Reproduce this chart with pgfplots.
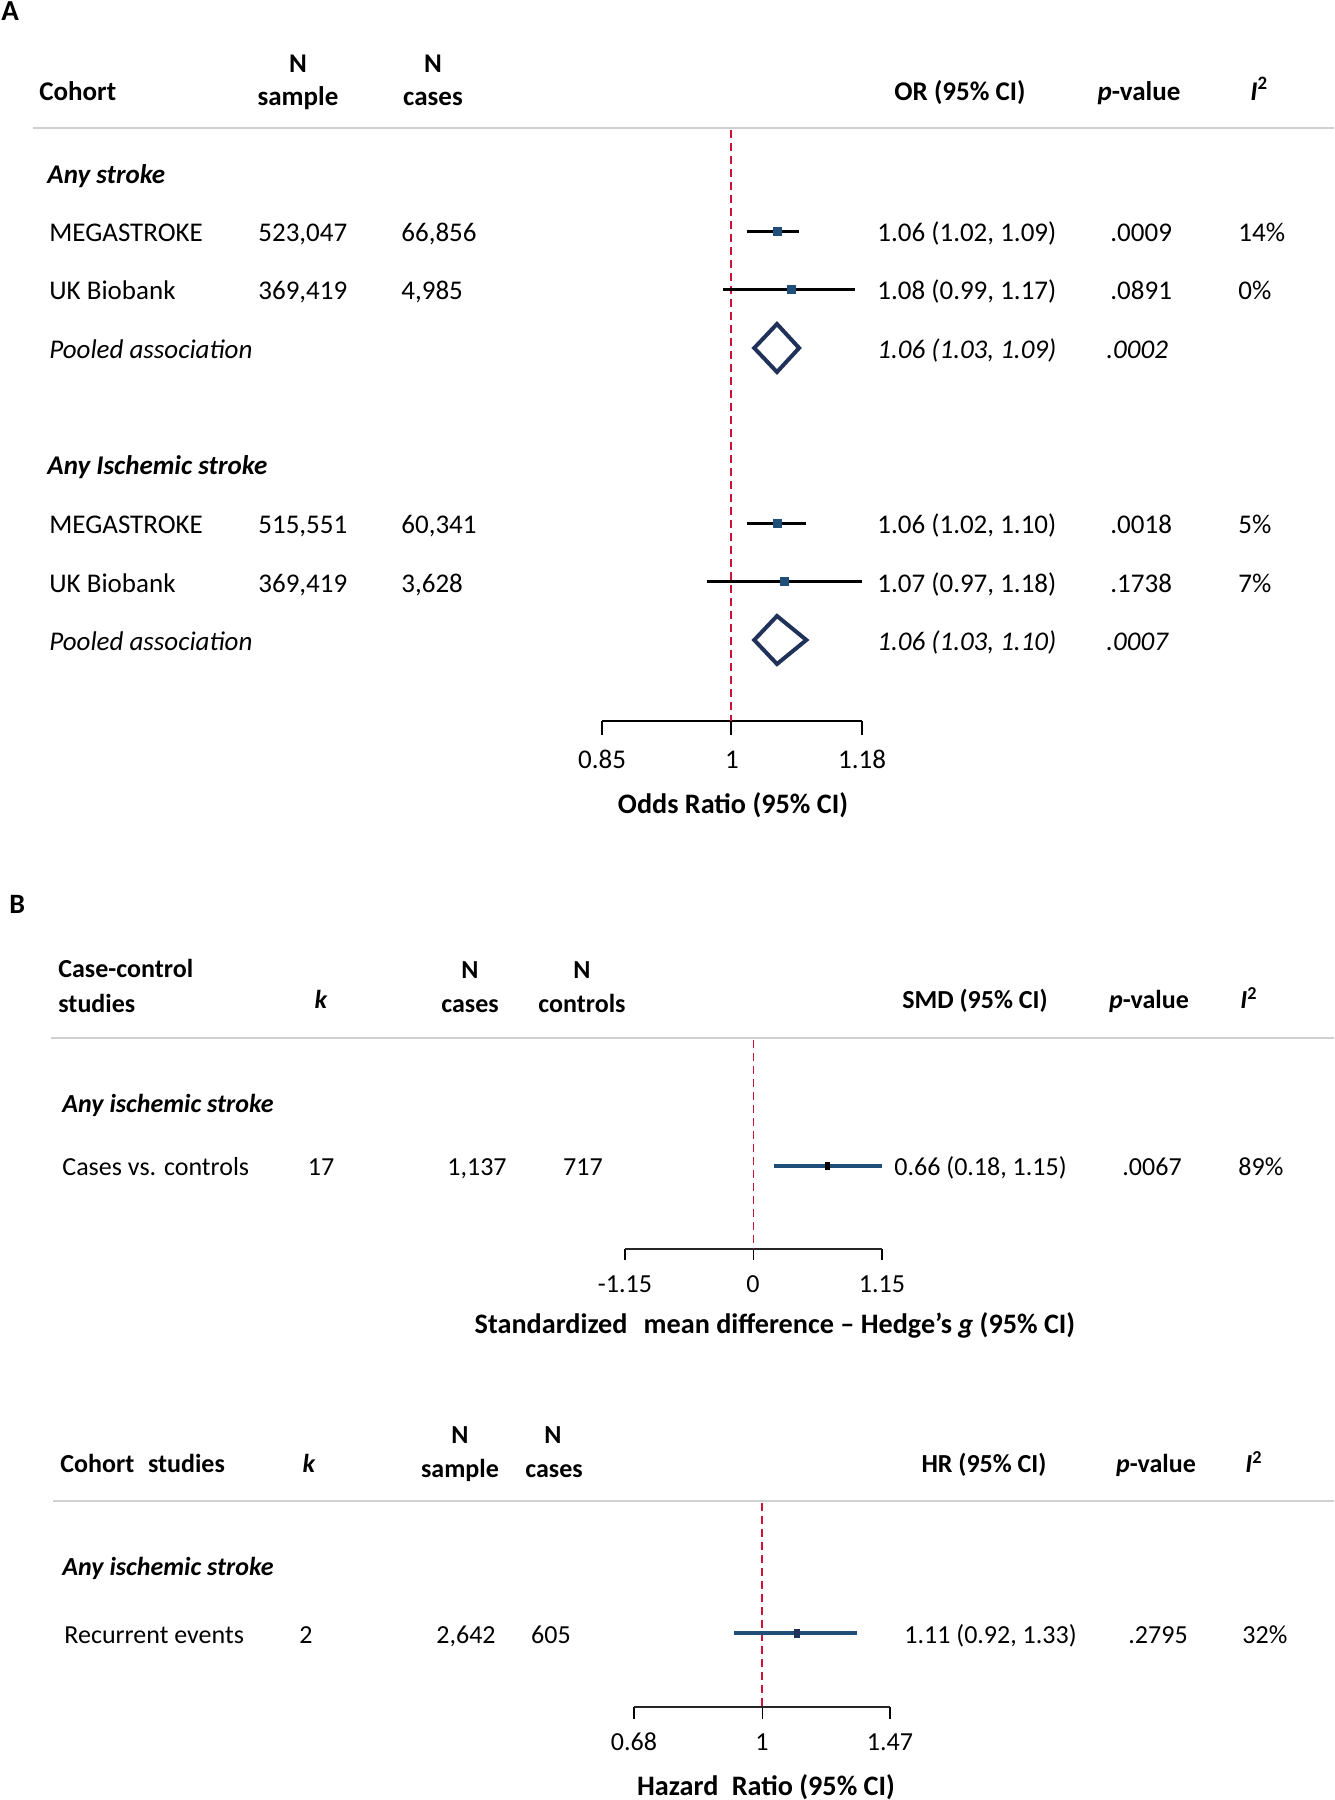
\documentclass[border=0pt]{standalone}
\usepackage{pgfplots}
\pgfplotsset{compat=1.18}
\usepackage{fontspec}
\setmainfont{Carlito}
\definecolor{mkblue}{RGB}{31,78,121}
\definecolor{dnavy}{RGB}{32,50,90}
\definecolor{refred}{RGB}{206,17,55}
\definecolor{hgray}{RGB}{208,208,208}
\pgfplotsset{forest/.style={scale only axis, clip=false, axis y line=none, axis x line*=bottom,
  x axis line style={-}, ytick=\empty, xticklabels={}, tick align=outside, enlargelimits=false,
  xminorticks=false, anchor=south west}}
\tikzset{ta/.style={font=\fontsize{13.5}{16}\selectfont, inner sep=0pt},
  hA/.style={font=\fontsize{13.5}{16}\selectfont\bfseries, inner sep=0pt},
  tb/.style={font=\fontsize{13}{15.5}\selectfont, inner sep=0pt},
  hB/.style={font=\fontsize{13}{15.5}\selectfont\bfseries, inner sep=0pt},
  hT/.style={font=\fontsize{14.1}{16}\selectfont\bfseries, inner sep=0pt}}
\begin{document}
\begin{tikzpicture}
\path[use as bounding box] (0pt,0pt) rectangle (667pt,-900pt);
\begin{scope}[x=0.5pt,y=-0.5pt]
% ---------- Panel A ----------
\node[font=\fontsize{14.5}{16}\selectfont\bfseries, inner sep=0pt, anchor=base west] at (1,20) {A};
\node[hA,anchor=base] at (298,72) {N};
\node[hA,anchor=base] at (433,72) {N};
\node[hA,anchor=base west] at (39,100) {Cohort};
\node[hA,anchor=base] at (298,105) {sample};
\node[hA,anchor=base] at (433,105) {cases};
\node[hA,anchor=base] at (960,100) {OR (95\% CI)};
\node[hA,anchor=base] at (1139,100) {\textit{p}-value};
\node[hA,anchor=base west] at (1250,100) {\textit{I}\textsuperscript{2}};
\draw[hgray, line width=1.25pt] (33,128) -- (1334,128);
\node[hA,anchor=base west] at (47,183) {\textit{Any stroke}};
\node[ta,anchor=base west] at (49,241) {MEGASTROKE};
\node[ta,anchor=base west] at (258,241) {523,047};
\node[ta,anchor=base west] at (401,241) {66,856};
\node[ta,anchor=base west] at (877,241) {1.06 (1.02, 1.09)};
\node[ta,anchor=base west] at (1110,241) {.0009};
\node[ta,anchor=base west] at (1238,241) {14\%};
\node[ta,anchor=base west] at (49,299) {UK Biobank};
\node[ta,anchor=base west] at (258,299) {369,419};
\node[ta,anchor=base west] at (401,299) {4,985};
\node[ta,anchor=base west] at (877,299) {1.08 (0.99, 1.17)};
\node[ta,anchor=base west] at (1110,299) {.0891};
\node[ta,anchor=base west] at (1238,299) {0\%};
\node[ta,anchor=base west] at (49,358) {\textit{Pooled association}};
\node[ta,anchor=base west] at (877,358) {\textit{1.06 (1.03, 1.09)}};
\node[ta,anchor=base west] at (1106,358) {\textit{.0002}};
\node[hA,anchor=base west] at (47,474) {\textit{Any Ischemic stroke}};
\node[ta,anchor=base west] at (49,533) {MEGASTROKE};
\node[ta,anchor=base west] at (258,533) {515,551};
\node[ta,anchor=base west] at (401,533) {60,341};
\node[ta,anchor=base west] at (877,533) {1.06 (1.02, 1.10)};
\node[ta,anchor=base west] at (1110,533) {.0018};
\node[ta,anchor=base west] at (1238,533) {5\%};
\node[ta,anchor=base west] at (49,592) {UK Biobank};
\node[ta,anchor=base west] at (258,592) {369,419};
\node[ta,anchor=base west] at (401,592) {3,628};
\node[ta,anchor=base west] at (877,592) {1.07 (0.97, 1.18)};
\node[ta,anchor=base west] at (1110,592) {.1738};
\node[ta,anchor=base west] at (1238,592) {7\%};
\node[ta,anchor=base west] at (49,650) {\textit{Pooled association}};
\node[ta,anchor=base west] at (877,650) {\textit{1.06 (1.03, 1.10)}};
\node[ta,anchor=base west] at (1106,650) {\textit{.0007}};
\node[ta,anchor=base] at (602,768) {0.85};
\node[ta,anchor=base] at (732,768) {1};
\node[ta,anchor=base] at (862,768) {1.18};
\node[hT,anchor=base] at (733,813) {Odds Ratio (95\% CI)};
% ---------- Panel B ----------
\node[font=\fontsize{14}{16}\selectfont\bfseries, inner sep=0pt, anchor=base west] at (9,913) {B};
\node[hB,anchor=base west] at (58,977) {Case-control};
\node[hB,anchor=base west] at (58,1012) {studies};
\node[hB,anchor=base] at (321,1008) {\textit{k}};
\node[hB,anchor=base] at (470,978) {N};
\node[hB,anchor=base] at (470,1012) {cases};
\node[hB,anchor=base] at (582,978) {N};
\node[hB,anchor=base] at (582,1012) {controls};
\node[hB,anchor=base] at (975,1008) {SMD (95\% CI)};
\node[hB,anchor=base] at (1149,1008) {\textit{p}-value};
\node[hB,anchor=base west] at (1240,1008) {\textit{I}\textsuperscript{2}};
\draw[hgray, line width=1.25pt] (51,1038) -- (1334,1038);
\node[hB,anchor=base west] at (62,1112) {\textit{Any ischemic stroke}};
\node[tb,anchor=base west] at (62,1175) {Cases vs. controls};
\node[tb,anchor=base] at (321,1175) {17};
\node[tb,anchor=base] at (477,1175) {1,137};
\node[tb,anchor=base] at (583,1175) {717};
\node[tb,anchor=base west] at (894,1175) {0.66 (0.18, 1.15)};
\node[tb,anchor=base west] at (1122,1175) {.0067};
\node[tb,anchor=base west] at (1238,1175) {89\%};
\node[tb,anchor=base] at (625,1292) {-1.15};
\node[tb,anchor=base] at (753,1292) {0};
\node[tb,anchor=base] at (882,1292) {1.15};
\node[hT,anchor=base] at (775,1333) {Standardized\hspace{0.35em} mean difference -- Hedge’s \textit{g} (95\% CI)};
% ---------- Panel C ----------
\node[hB,anchor=base] at (460,1443) {N};
\node[hB,anchor=base] at (553,1443) {N};
\node[hB,anchor=base west] at (60,1472) {Cohort\hspace{0.3em} studies};
\node[hB,anchor=base] at (309,1472) {\textit{k}};
\node[hB,anchor=base] at (460,1477) {sample};
\node[hB,anchor=base] at (554,1477) {cases};
\node[hB,anchor=base] at (984,1472) {HR (95\% CI)};
\node[hB,anchor=base] at (1156,1472) {\textit{p}-value};
\node[hB,anchor=base west] at (1245,1472) {\textit{I}\textsuperscript{2}};
\draw[hgray, line width=1.25pt] (53,1501) -- (1334,1501);
\node[hB,anchor=base west] at (62,1575) {\textit{Any ischemic stroke}};
\node[tb,anchor=base west] at (64,1643) {Recurrent events};
\node[tb,anchor=base] at (306,1643) {2};
\node[tb,anchor=base] at (466,1643) {2,642};
\node[tb,anchor=base] at (551,1643) {605};
\node[tb,anchor=base west] at (904,1643) {1.11 (0.92, 1.33)};
\node[tb,anchor=base west] at (1128,1643) {.2795};
\node[tb,anchor=base west] at (1242,1643) {32\%};
\node[tb,anchor=base] at (634,1750) {0.68};
\node[tb,anchor=base] at (762,1750) {1};
\node[tb,anchor=base] at (890,1750) {1.47};
\node[hT,anchor=base] at (766,1795) {Hazard\hspace{0.25em} Ratio (95\% CI)};
\end{scope}
% ---------- Axis A ----------
\begin{axis}[forest, at={(301pt,-360.5pt)}, width=130pt, height=296.5pt,
  xmode=log, xmin=0.85, xmax=1.18, ymin=-721, ymax=-128, xtick={0.85,1,1.18},
  major tick length=7pt, tick style={black, line width=1pt}, x axis line style={black, line width=1pt}]
\addplot[refred, line width=1pt, dash pattern=on 4pt off 2.5pt] coordinates {(1,-130) (1,-721)};
\addplot[black, line width=1.5pt] coordinates {(1.02,-231) (1.09,-231)};
\addplot[only marks, mark=square*, mark size=2pt, mkblue] coordinates {(1.06,-231)};
\addplot[black, line width=1.5pt] coordinates {(0.99,-289) (1.17,-289)};
\addplot[only marks, mark=square*, mark size=2pt, mkblue] coordinates {(1.08,-289)};
\addplot[dnavy, line width=2pt, line join=miter] coordinates {(1.03,-348) (1.06,-324) (1.09,-348) (1.06,-372)} --cycle;
\addplot[black, line width=1.5pt] coordinates {(1.02,-523) (1.10,-523)};
\addplot[only marks, mark=square*, mark size=2pt, mkblue] coordinates {(1.06,-523)};
\addplot[black, line width=1.5pt] coordinates {(0.97,-581) (1.18,-581)};
\addplot[only marks, mark=square*, mark size=2pt, mkblue] coordinates {(1.07,-581)};
\addplot[dnavy, line width=2pt, line join=miter] coordinates {(1.03,-640) (1.06,-616) (1.10,-640) (1.06,-664)} --cycle;
\end{axis}
% ---------- Axis B ----------
\begin{axis}[forest, at={(312.5pt,-624.5pt)}, width=128.5pt, height=105.5pt,
  xmin=-1.15, xmax=1.15, ymin=-1249, ymax=-1038, xtick={-1.15,0,1.15},
  major tick length=5.5pt, tick style={black, line width=0.6pt}, x axis line style={black!85, line width=1pt}]
\addplot[refred, line width=0.7pt, dash pattern=on 4pt off 2.5pt] coordinates {(0,-1040) (0,-1249)};
\addplot[mkblue, line width=1.6pt] coordinates {(0.18,-1166) (1.15,-1166)};
\addplot[only marks, mark=square*, mark size=1.9pt, black, mark options={xscale=0.6}] coordinates {(0.66,-1166)};
\end{axis}
% ---------- Axis C ----------
\begin{axis}[forest, at={(317pt,-853.5pt)}, width=128pt, height=103pt,
  xmode=log, xmin=0.68, xmax=1.47, ymin=-1707, ymax=-1501, xtick={0.68,1,1.47},
  major tick length=6pt, tick style={black, line width=0.6pt}, x axis line style={black!85, line width=1pt}]
\addplot[refred, line width=0.7pt, dash pattern=on 4pt off 2.5pt] coordinates {(1,-1503) (1,-1707)};
\addplot[mkblue, line width=1.6pt] coordinates {(0.92,-1633) (1.33,-1633)};
\addplot[only marks, mark=square*, mark size=2pt, dnavy, mark options={xscale=0.7}] coordinates {(1.11,-1633)};
\end{axis}
\end{tikzpicture}
\end{document}
